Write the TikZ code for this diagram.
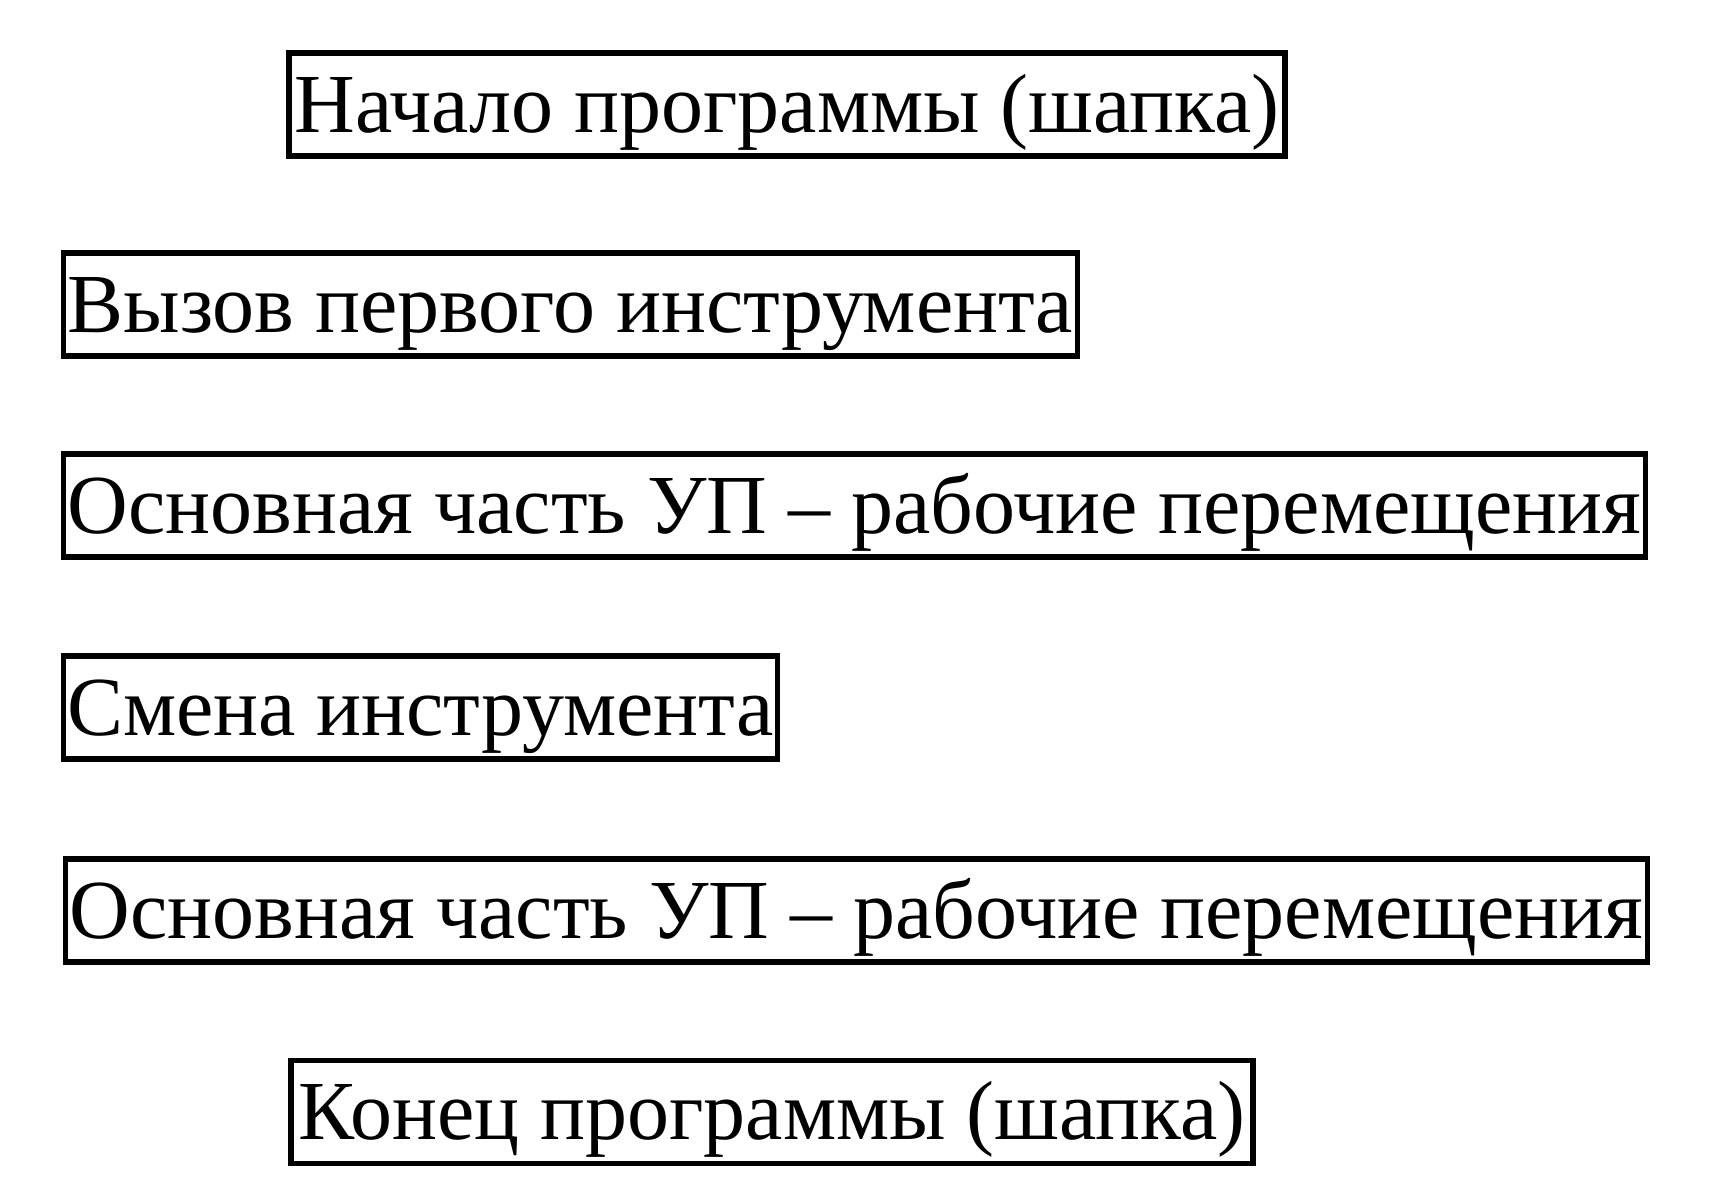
\documentclass[tikz,border=0pt]{standalone}
\usepackage{fontspec}
\setmainfont{Liberation Serif}
\usetikzlibrary{positioning}

\begin{document}
\begin{tikzpicture}[x={(0.5pt,0)}, y={(0,-0.5pt)},
    every node/.style={font=\fontsize{42}{50}\selectfont},
    stage/.style={draw, line width=2.6pt, inner xsep=0pt, inner ysep=0pt,
                  text height=39.5pt, text depth=12pt}]

        \useasboundingbox (0,0) rectangle (1723,1189);

        \node[stage, minimum width=498pt]  (start)  at (787,104.5)  {Начало программы (шапка)};
        \node[stage, minimum width=507pt]  (tool1)  at (570.5,304.5) {Вызов первого инструмента};
        \node[stage, minimum width=791pt]  (main1)  at (854.5,505.5) {Основная часть УП – рабочие перемещения};
        \node[stage, minimum width=357pt]  (change) at (420.5,707.5) {Смена инструмента};
        \node[stage, minimum width=791pt]  (main2)  at (856.5,910.5) {Основная часть УП – рабочие перемещения};
        \node[stage, minimum width=481pt]  (finish) at (772,1112)   {Конец программы (шапка)};

      \end{tikzpicture}
\end{document}
